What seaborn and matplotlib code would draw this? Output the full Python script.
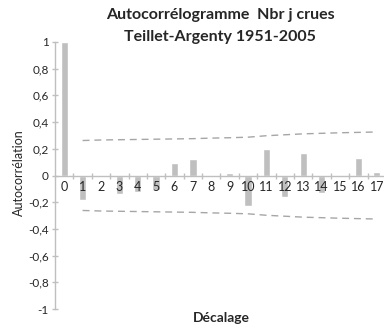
import matplotlib
matplotlib.use("Agg")
import matplotlib.pyplot as plt
import seaborn as sns
import pandas as pd
from matplotlib.ticker import FixedLocator, FuncFormatter

lags = list(range(18))
acf = [1.0, -0.18, 0.0, -0.14, -0.12, -0.11, 0.092, 0.12, 0.0, 0.015,
       -0.225, 0.195, -0.16, 0.17, -0.13, 0.005, 0.13, 0.025]
band_lags = list(range(1, 18))
upper = [0.262, 0.266, 0.268, 0.270, 0.272, 0.274, 0.276, 0.280, 0.283, 0.287,
         0.298, 0.305, 0.312, 0.316, 0.320, 0.323, 0.326]
lower = [-u for u in upper]

sns.set_theme(style="white")
plt.rcParams['font.family'] = ['Lato', 'DejaVu Sans']

fig = plt.figure(figsize=(3.84, 3.31), dpi=100)
ax = fig.add_axes([55/384, 1 - 309/331, 1.005 - 55/384, (309 - 42)/331])

df = pd.DataFrame({"lag": lags, "acf": acf})
sns.barplot(data=df, x="lag", y="acf", color="#BFBFBF", saturation=1,
            width=0.4, ax=ax, order=lags, zorder=1)
bdf = pd.DataFrame({"lag": band_lags, "upper": upper, "lower": lower})
for col in ["upper", "lower"]:
    sns.lineplot(data=bdf, x="lag", y=col, ax=ax, color="#A6A6A6",
                 lw=1.0, dashes=False, linestyle=(0, (5, 3.5)))

ax.set_xlim(-0.5, 17.5)
ax.set_ylim(-1, 1)

for s in ["top", "right"]:
    ax.spines[s].set_visible(False)
ax.spines["left"].set_color("#BFBFBF")
ax.spines["left"].set_linewidth(1)
ax.spines["bottom"].set_position(("data", 0))
ax.spines["bottom"].set_color("#BFBFBF")
ax.spines["bottom"].set_linewidth(1)
ax.spines["bottom"].set_zorder(5)
ax.xaxis.set_zorder(6)

ax.set_yticks([-1, -0.8, -0.6, -0.4, -0.2, 0, 0.2, 0.4, 0.6, 0.8, 1])
ax.yaxis.set_major_formatter(FuncFormatter(
    lambda v, p: ("%g" % round(v, 1)).replace(".", ",")))
ax.tick_params(axis="y", direction="inout", length=5, width=1, color="#BFBFBF",
               labelsize=8.5, labelcolor="#262626", pad=2, left=True)
ax.set_xticks(lags)
ax.set_xticklabels([str(l) for l in lags])
ax.tick_params(axis="x", which="major", length=0, labelsize=9,
               labelcolor="#262626", pad=4, bottom=True)
ax.xaxis.set_minor_locator(FixedLocator([l + 0.5 for l in lags[:-1]]))
ax.tick_params(axis="x", which="minor", direction="inout", length=5, width=1,
               color="#BFBFBF", bottom=True)

ax.set_xlabel("")
ax.set_ylabel("")
fig.text(221/384, 1 - 318/331, "Décalage", ha="center", va="center",
         fontsize=10, fontweight="bold", color="#262626")
fig.text(19/384, 1 - 173/331, "Autocorrélation", ha="center", va="center",
         rotation=90, fontsize=9, color="#262626")
fig.text(220/384, 1 - 15/331, "Autocorrélogramme  Nbr j crues", ha="center",
         va="center", fontsize=11.5, fontweight="bold", color="#262626")
fig.text(220/384, 1 - 37/331, "Teillet-Argenty 1951-2005", ha="center",
         va="center", fontsize=11.5, fontweight="bold", color="#262626")

fig.savefig("out.png", dpi=100)
